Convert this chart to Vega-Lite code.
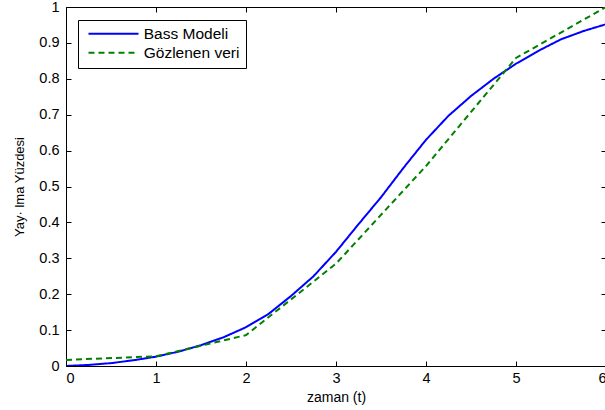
{
  "$schema": "https://vega.github.io/schema/vega-lite/v6.json",
  "width": 540,
  "height": 359,
  "autosize": {"type": "none"},
  "padding": {"left": 66, "top": 7, "right": 0, "bottom": 44},
  "background": "white",
  "config": {
    "font": "Liberation Sans",
    "view": {"stroke": "black", "strokeWidth": 1},
    "axis": {"grid": false, "domain": false, "tickColor": "black", "tickSize": -5, "labelColor": "black", "labelFontSize": 14.5, "labelFont": "Liberation Sans", "titleFont": "Liberation Sans", "titleFontWeight": "normal", "titleColor": "black"},
    "legend": {"orient": "none", "legendX": 12, "legendY": 13, "fillColor": "white", "strokeColor": "black", "padding": 6, "symbolType": "M-4,0H4", "symbolSize": 156.25, "symbolOffset": 21.75, "labelOffset": 22.5, "symbolStrokeWidth": 2, "labelFontSize": 15.5, "labelFont": "Liberation Sans", "labelColor": "black", "rowPadding": 2, "title": null}
  },
  "datasets": {
    "bass": [
      {"t": 0, "y": 0.0}, {"t": 0.25, "y": 0.003}, {"t": 0.5, "y": 0.008}, {"t": 0.75, "y": 0.016},
      {"t": 1.0, "y": 0.026}, {"t": 1.25, "y": 0.04}, {"t": 1.5, "y": 0.058}, {"t": 1.75, "y": 0.08},
      {"t": 2.0, "y": 0.108}, {"t": 2.25, "y": 0.145}, {"t": 2.5, "y": 0.195}, {"t": 2.75, "y": 0.25},
      {"t": 3.0, "y": 0.318}, {"t": 3.25, "y": 0.395}, {"t": 3.5, "y": 0.47}, {"t": 3.75, "y": 0.552},
      {"t": 4.0, "y": 0.63}, {"t": 4.25, "y": 0.697}, {"t": 4.5, "y": 0.752}, {"t": 4.75, "y": 0.8},
      {"t": 5.0, "y": 0.842}, {"t": 5.25, "y": 0.878}, {"t": 5.5, "y": 0.91}, {"t": 5.75, "y": 0.933},
      {"t": 6.0, "y": 0.952}
    ],
    "obs": [
      {"t": 0, "y": 0.017}, {"t": 1, "y": 0.027}, {"t": 2, "y": 0.086}, {"t": 3, "y": 0.285},
      {"t": 4, "y": 0.557}, {"t": 5, "y": 0.858}, {"t": 6, "y": 1.0}
    ]
  },
  "layer": [
    {
      "data": {"name": "bass"},
      "transform": [{"calculate": "'Bass Modeli'", "as": "seri"}],
      "mark": {"type": "line", "strokeWidth": 2, "clip": true},
      "encoding": {
        "x": {"field": "t", "type": "quantitative", "scale": {"domain": [0, 6], "nice": false}, "axis": {"values": [0,1,2,3,4,5,6], "title": "zaman (t)", "titleFontSize": 14, "labelPadding": 10, "titlePadding": 6}},
        "y": {"field": "y", "type": "quantitative", "scale": {"domain": [0, 1], "nice": false}, "axis": {"values": [0,0.1,0.2,0.3,0.4,0.5,0.6,0.7,0.8,0.9,1], "format": "~g", "title": "Yay· lma Yüzdesi", "titleFontSize": 13, "labelPadding": 12, "titlePadding": 12}},
        "color": {"field": "seri", "type": "nominal", "scale": {"domain": ["Bass Modeli", "Gözlenen veri"], "range": ["#0000ff", "#008000"]}},
        "strokeDash": {"field": "seri", "type": "nominal", "scale": {"domain": ["Bass Modeli", "Gözlenen veri"], "range": [[1, 0], [6, 4]]}}
      }
    },
    {
      "data": {"name": "obs"},
      "transform": [{"calculate": "'Gözlenen veri'", "as": "seri"}],
      "mark": {"type": "line", "strokeWidth": 2, "clip": true},
      "encoding": {
        "x": {"field": "t", "type": "quantitative", "scale": {"domain": [0, 6], "nice": false}, "axis": {"orient": "top", "values": [0,1,2,3,4,5,6], "labels": false, "title": null}},
        "y": {"field": "y", "type": "quantitative", "scale": {"domain": [0, 1], "nice": false}, "axis": {"orient": "right", "values": [0,0.1,0.2,0.3,0.4,0.5,0.6,0.7,0.8,0.9,1], "labels": false, "title": null}},
        "color": {"field": "seri", "type": "nominal", "scale": {"domain": ["Bass Modeli", "Gözlenen veri"], "range": ["#0000ff", "#008000"]}},
        "strokeDash": {"field": "seri", "type": "nominal", "scale": {"domain": ["Bass Modeli", "Gözlenen veri"], "range": [[1, 0], [6, 4]]}}
      }
    }
  ],
  "resolve": {"axis": {"x": "independent", "y": "independent"}}
}
